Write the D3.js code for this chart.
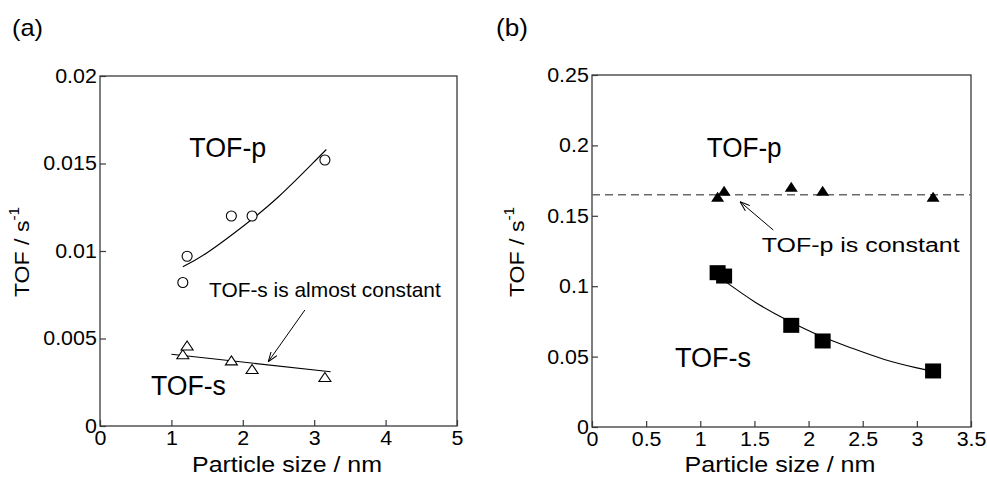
<!DOCTYPE html>
<html>
<head>
<meta charset="utf-8">
<script src="https://cdn.jsdelivr.net/npm/d3@7"></script>
<style>
  body { margin: 0; background: #fff; }
  svg { display: block; font-family: "Liberation Sans", Arial, sans-serif; }
</style>
</head>
<body>
<svg id="chart" width="987" height="477"></svg>
<script>
// particle sizes (nm), shared by both panels
const sizes = [1.16, 1.22, 1.84, 2.13, 3.15]

// panel (a)
const tofPA = [0.0082, 0.0097, 0.0120, 0.0120, 0.0152]
const tofSA = [0.0041, 0.0046, 0.00375, 0.00326, 0.0028]
const fitPAx = [1.16, 1.5, 2.0, 2.5, 3.0, 3.17]
const fitPAy = [0.0091, 0.0099, 0.0114, 0.0131, 0.0151, 0.0158]
const fitSAx = [1.0, 3.23]
const fitSAy = [0.0041, 0.0031]
const xTicksA = [0, 1, 2, 3, 4, 5]
const xLabelsA = ['0', '1', '2', '3', '4', '5']
const yTicksA = [0, 0.005, 0.01, 0.015, 0.02]
const yLabelsA = ['0', '0.005', '0.01', '0.015', '0.02']

// panel (b)
const tofPB = [0.1636, 0.1678, 0.1707, 0.1678, 0.1636]
const tofSB = [0.1096, 0.1072, 0.0722, 0.0611, 0.0398]
const constPB = 0.165
const fitSBx = [1.2, 1.5, 1.8, 2.1, 2.4, 2.7, 3.0, 3.15]
const fitSBy = [0.1050, 0.0890, 0.0760, 0.0650, 0.0560, 0.0480, 0.0420, 0.0395]
const xTicksB = [0, 0.5, 1, 1.5, 2, 2.5, 3, 3.5]
const xLabelsB = ['0', '0.5', '1', '1.5', '2', '2.5', '3', '3.5']
const yTicksB = [0, 0.05, 0.1, 0.15, 0.2, 0.25]
const yLabelsB = ['0', '0.05', '0.1', '0.15', '0.2', '0.25']

//

const svg = d3.select('#chart')
const axisColor = '#3a3a3a'
const tickStretch = 1.07

svg.append('defs').append('marker')
    .attr('id', 'arrow')
    .attr('viewBox', '0 0 10 8')
    .attr('refX', 10)
    .attr('refY', 4)
    .attr('markerWidth', 10)
    .attr('markerHeight', 8)
    .attr('markerUnits', 'userSpaceOnUse')
    .attr('orient', 'auto')
  .append('path')
    .attr('d', 'M0,0.5 L10,4 L0,7.5')
    .attr('fill', 'none')
    .attr('stroke', '#000')
    .attr('stroke-width', 1)

function label (g, px, py, text, size, width, anchor = 'start') {
  const t = g.append('text')
    .attr('font-size', size)
    .attr('text-anchor', anchor)
    .attr('fill', '#000')
    .text(text)
  const k = width / t.node().getComputedTextLength()
  t.attr('transform', `translate(${px},${py}) scale(${k},1)`)
  return t
}

function makePanel (box, xDomain, yDomain, xTicks, xLabels, yTicks, yLabels) {
  const g = svg.append('g')
  const x = d3.scaleLinear().domain(xDomain).range([box.left, box.right])
  const y = d3.scaleLinear().domain(yDomain).range([box.bottom, box.top])

  const xAxis = d3.axisBottom(x)
    .tickValues(xTicks)
    .tickFormat((d, i) => xLabels[i])
    .tickSizeInner(-6)
    .tickSizeOuter(0)
    .tickPadding(5)

  const yAxis = d3.axisLeft(y)
    .tickValues(yTicks)
    .tickFormat((d, i) => yLabels[i])
    .tickSizeInner(-6)
    .tickSizeOuter(0)
    .tickPadding(3)

  const gx = g.append('g')
      .attr('transform', `translate(0,${box.bottom})`)
      .call(xAxis)
  const gy = g.append('g')
      .attr('transform', `translate(${box.left},0)`)
      .call(yAxis)

  for (const a of [gx, gy]) {
    a.select('.domain').remove()
    a.selectAll('line').attr('stroke', axisColor).attr('stroke-width', 1.2)
    a.selectAll('text')
      .attr('font-size', 20)
      .attr('font-family', '"Liberation Sans", Arial, sans-serif')
      .attr('fill', '#000')
      .attr('transform', `scale(${tickStretch},1)`)
  }

  g.append('rect')
      .attr('x', box.left)
      .attr('y', box.top)
      .attr('width', box.right - box.left)
      .attr('height', box.bottom - box.top)
      .attr('fill', 'none')
      .attr('stroke', axisColor)
      .attr('stroke-width', 1.3)

  return { g, x, y }
}

function curve (p, xs, ys, dash) {
  const line = d3.line()
    .x((d) => p.x(d[0]))
    .y((d) => p.y(d[1]))
    .curve(d3.curveNatural)
  p.g.append('path')
      .datum(xs.map((v, i) => [v, ys[i]]))
      .attr('d', line)
      .attr('fill', 'none')
      .attr('stroke', dash ? '#6a6a6a' : '#000')
      .attr('stroke-width', dash ? 1.6 : 1.1)
      .attr('stroke-dasharray', dash || null)
}

function arrow (p, from, to) {
  p.g.append('line')
      .attr('x1', p.x(from[0]))
      .attr('y1', p.y(from[1]))
      .attr('x2', p.x(to[0]))
      .attr('y2', p.y(to[1]))
      .attr('stroke', '#000')
      .attr('stroke-width', 1)
      .attr('marker-end', 'url(#arrow)')
}

function triangle (w, h) {
  return `M0,${-h / 2} L${w / 2},${h / 2} L${-w / 2},${h / 2} Z`
}

// (a)

const pa = makePanel({ left: 100, top: 76, right: 457, bottom: 426 },
  [0, 5], [0, 0.02], xTicksA, xLabelsA, yTicksA, yLabelsA)

curve(pa, fitPAx, fitPAy)
curve(pa, fitSAx, fitSAy)

pa.g.selectAll('circle.p')
  .data(sizes)
  .enter()
  .append('circle')
    .attr('class', 'p')
    .attr('cx', (d) => pa.x(d))
    .attr('cy', (d, i) => pa.y(tofPA[i]))
    .attr('r', 5)
    .attr('fill', '#fff')
    .attr('stroke', '#000')
    .attr('stroke-width', 1.1)

pa.g.selectAll('path.s')
  .data(sizes)
  .enter()
  .append('path')
    .attr('class', 's')
    .attr('d', triangle(12, 9))
    .attr('transform', (d, i) => `translate(${pa.x(d)},${pa.y(tofSA[i])})`)
    .attr('fill', '#fff')
    .attr('stroke', '#000')
    .attr('stroke-width', 1.1)

label(pa.g, pa.x(1.25), pa.y(0.01537), 'TOF-p', 27, 77)
label(pa.g, pa.x(0.714), pa.y(0.00177), 'TOF-s', 27, 75)
label(pa.g, pa.x(1.527), pa.y(0.00735), 'TOF-s is almost constant', 20, 232)
arrow(pa, [2.87, 0.00663], [2.356, 0.00367])

// (b)

const pb = makePanel({ left: 592, top: 75, right: 971, bottom: 427 },
  [0, 3.5], [0, 0.25], xTicksB, xLabelsB, yTicksB, yLabelsB)

curve(pb, [0, 3.5], [constPB, constPB], '8,5')
curve(pb, fitSBx, fitSBy)

pb.g.selectAll('path.p')
  .data(sizes)
  .enter()
  .append('path')
    .attr('class', 'p')
    .attr('d', triangle(13, 10))
    .attr('transform', (d, i) => `translate(${pb.x(d)},${pb.y(tofPB[i])})`)
    .attr('fill', '#000')

pb.g.selectAll('rect.s')
  .data(sizes)
  .enter()
  .append('rect')
    .attr('class', 's')
    .attr('x', (d) => pb.x(d) - 8)
    .attr('y', (d, i) => pb.y(tofSB[i]) - 7.5)
    .attr('width', 16)
    .attr('height', 15)
    .attr('fill', '#000')

label(pb.g, pb.x(1.059), pb.y(0.1915), 'TOF-p', 27, 75)
label(pb.g, pb.x(0.766), pb.y(0.0424), 'TOF-s', 27, 76)
label(pb.g, pb.x(1.567), pb.y(0.1245), 'TOF-p is constant', 21, 198)
arrow(pb, [1.674, 0.1399], [1.367, 0.160])

// titles

label(svg, 287, 472, 'Particle size / nm', 22, 190, 'middle')
label(svg, 780, 472, 'Particle size / nm', 22, 191, 'middle')
label(svg, 12, 36, '(a)', 24, 31)
label(svg, 496, 36, '(b)', 24, 32)

for (const cx of [29, 524]) {
  const t = svg.append('text')
    .attr('font-size', 21)
    .attr('text-anchor', 'middle')
    .attr('transform', `translate(${cx},252) rotate(-90) scale(1.1,1)`)
  t.append('tspan').text('TOF / s')
  t.append('tspan').attr('font-size', 14).attr('dy', -10).text('-1')
}
</script>
</body>
</html>
